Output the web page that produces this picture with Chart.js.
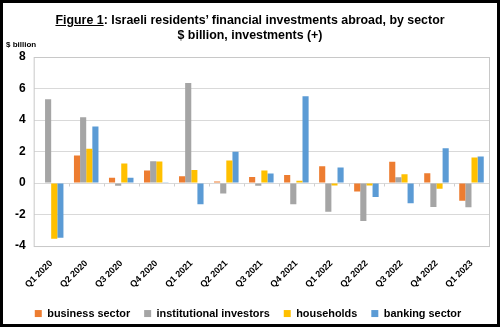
<!DOCTYPE html>
<html lang="en">
<head>
    <meta charset="UTF-8">
    <title>Israeli residents' financial investments abroad</title>
    <script src="https://cdn.jsdelivr.net/npm/chart.js"></script>
    <style>
        body {
            margin: 0;
            background: #fff;
            font-family: 'Liberation Sans', Arial, sans-serif;
        }
        .frame {
            position: relative;
            width: 500px;
            height: 327px;
            box-sizing: border-box;
            border: 3px solid #000;
            background: #fff;
        }
        .title {
            position: absolute;
            left: 0;
            right: 0;
            top: 10px;
            text-align: center;
            font-weight: bold;
            font-size: 12.4px;
            line-height: 15px;
            color: #000;
        }
        .unit {
            position: absolute;
            left: 3px;
            top: 37px;
            font-weight: bold;
            font-size: 8px;
            color: #000;
        }
        canvas {
            position: absolute;
            left: 0;
            top: 0;
        }
    </style>
</head>
<body>
    <div class="frame">
        <canvas id="chart" width="494" height="321"></canvas>
        <div class="title"><u>Figure 1</u>: Israeli residents’ financial investments abroad, by sector<br>$ billion, investments (+)</div>
        <div class="unit">$ billion</div>
    </div>

    <script>
        const quarters = ['Q1 2020', 'Q2 2020', 'Q3 2020', 'Q4 2020', 'Q1 2021', 'Q2 2021', 'Q3 2021',
                          'Q4 2021', 'Q1 2022', 'Q2 2022', 'Q3 2022', 'Q4 2022', 'Q1 2023'];

        const businessSector = [0.03, 1.75, 0.34, 0.79, 0.43, 0.09, 0.38, 0.51, 1.07, -0.53, 1.35, 0.62, -1.13];
        const institutionalInvestors = [5.32, 4.17, -0.17, 1.39, 6.35, -0.66, -0.17, -1.35, -1.82, -2.41, 0.36, -1.52, -1.54];
        const households = [-3.53, 2.18, 1.24, 1.37, 0.83, 1.43, 0.79, 0.15, -0.15, -0.15, 0.56, -0.36, 1.62];
        const bankingSector = [-3.48, 3.59, 0.34, 0.02, -1.35, 1.99, 0.6, 5.51, 0.98, -0.88, -1.28, 2.2, 1.69];

        const yTicks = [-4, -2, 0, 2, 4, 6, 8];

        // grey frame round the plot area plus small ticks on the zero line
        const plotFrame = {
            id: 'plotFrame',
            afterDraw(chart) {
                const { ctx, chartArea, scales } = chart;
                ctx.save();
                ctx.strokeStyle = '#c8c8c8';
                ctx.lineWidth = 1;
                ctx.strokeRect(chartArea.left + 0.5, chartArea.top + 0.5,
                    chartArea.right - chartArea.left, chartArea.bottom - chartArea.top);
                const y0 = Math.round(scales.y.getPixelForValue(0)) + 0.5;
                const step = (chartArea.right - chartArea.left) / quarters.length;
                ctx.strokeStyle = '#d0d0d0';
                for (let i = 1; i < quarters.length; i++) {
                    const x = Math.round(chartArea.left + i * step) + 0.5;
                    ctx.beginPath();
                    ctx.moveTo(x, y0);
                    ctx.lineTo(x, y0 + 3);
                    ctx.stroke();
                }
                ctx.restore();
            }
        };

        const bar = (label, data, color) => ({
            label: label,
            data: data,
            backgroundColor: color,
            borderWidth: 0,
            categoryPercentage: 0.7,
            barPercentage: 1.0
        });

        new Chart(document.getElementById('chart').getContext('2d'), {
            type: 'bar',
            data: {
                labels: quarters,
                datasets: [
                    bar('business sector', businessSector, '#ED7D31'),
                    bar('institutional investors', institutionalInvestors, '#A5A5A5'),
                    bar('households', households, '#FFC000'),
                    bar('banking sector', bankingSector, '#5B9BD5')
                ]
            },
            options: {
                responsive: false,
                animation: false,
                layout: {
                    padding: { top: 54, right: 8, left: 4, bottom: -5 }
                },
                plugins: {
                    title: { display: false },
                    tooltip: { enabled: false },
                    legend: {
                        position: 'bottom',
                        labels: {
                            color: '#000',
                            font: { family: "'Liberation Sans', Arial, sans-serif", size: 10.9, weight: 'bold' },
                            boxWidth: 7,
                            boxHeight: 7,
                            padding: 14
                        }
                    }
                },
                scales: {
                    x: {
                        grid: { display: false },
                        border: { display: false },
                        ticks: {
                            color: '#000',
                            maxRotation: 45,
                            minRotation: 45,
                            padding: 4,
                            font: { family: "'Liberation Sans', Arial, sans-serif", size: 9, weight: 'bold' }
                        }
                    },
                    y: {
                        min: -4,
                        max: 8,
                        afterBuildTicks(scale) {
                            scale.ticks = yTicks.map(v => ({ value: v }));
                        },
                        grid: {
                            color: '#d9d9d9',
                            lineWidth: 1,
                            drawTicks: false
                        },
                        border: { display: false },
                        ticks: {
                            color: '#000',
                            padding: 8,
                            font: { family: "'Liberation Sans', Arial, sans-serif", size: 12, weight: 'bold' }
                        }
                    }
                }
            },
            plugins: [plotFrame]
        });
    </script>
</body>
</html>
